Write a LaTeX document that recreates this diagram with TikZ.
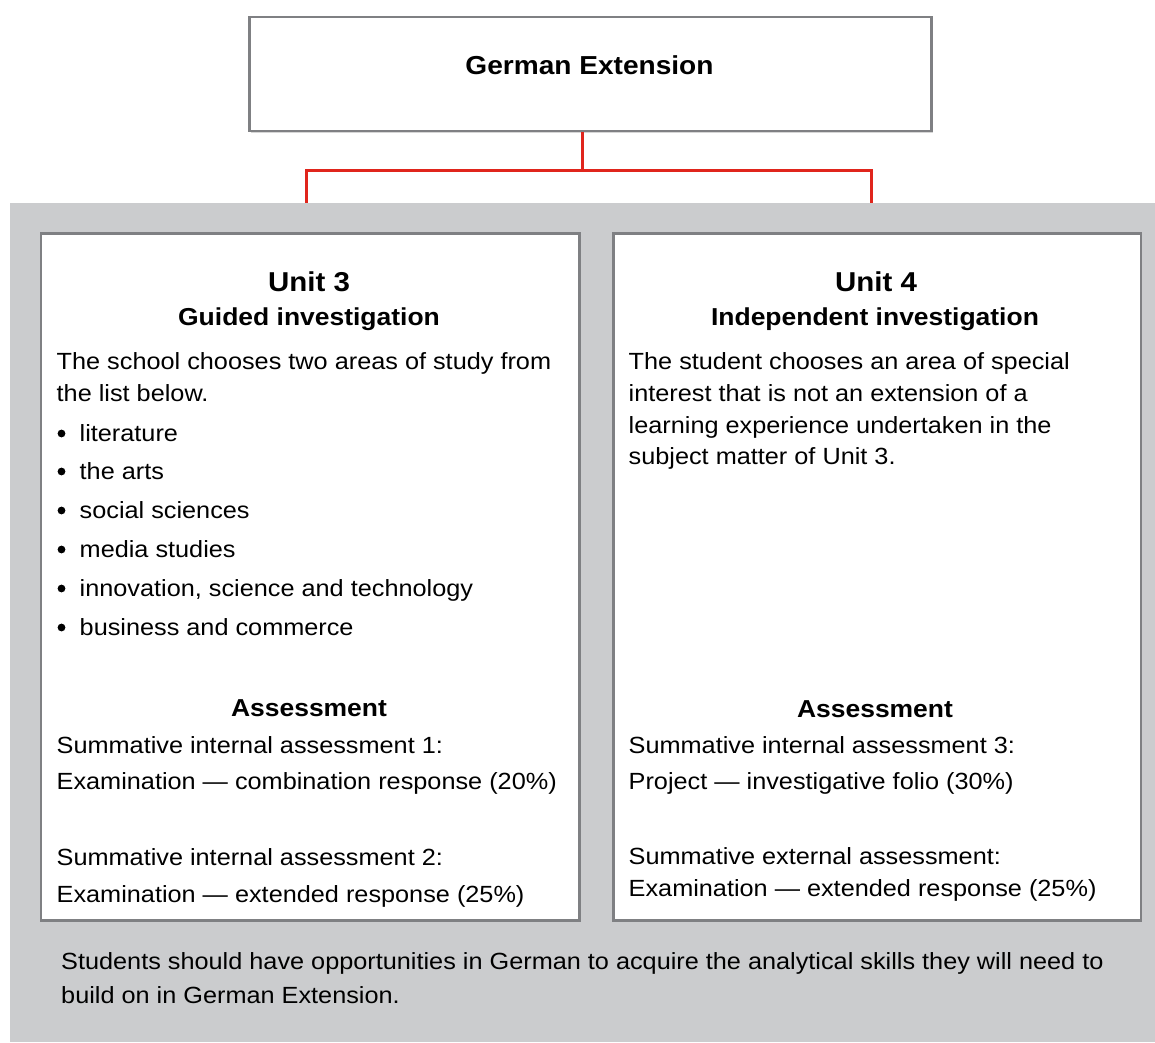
\documentclass[tikz,border=0pt]{standalone}
\usepackage{fontspec}
\setmainfont{Liberation Sans}[FakeStretch=1.08]
\definecolor{panelgray}{HTML}{CBCCCE}
\definecolor{boxborder}{HTML}{7F8083}
\definecolor{linkred}{HTML}{E0251C}
\begin{document}
\begin{tikzpicture}[x=1pt,y=-1pt,
  txt/.style={anchor=base west,inner sep=0pt,font=\fontsize{23.4}{28}\selectfont},
  ctxt/.style={anchor=base,inner sep=0pt,font=\fontsize{24.5}{29}\selectfont\bfseries},
  unittxt/.style={anchor=base,inner sep=0pt,font=\fontsize{27.3}{33}\selectfont\bfseries},
  foot/.style={anchor=base west,inner sep=0pt,font=\fontsize{23.4}{28}\selectfont},
  card/.style={draw=boxborder,line width=2.6pt,fill=white},
  shade/.style={fill=black,opacity=0.16},
  link/.style={draw=linkred,line width=3pt}]
\useasboundingbox (0,0) rectangle (1155,1042);
\fill[white] (0,0) rectangle (1155,1042);
% top box
\fill[shade] (250.5,18) rectangle (933,133);
\node[card,minimum width=682pt,minimum height=114pt,anchor=north west,inner sep=0pt] (top) at (248.3,15.5) {};
\node[anchor=base,inner sep=0pt,font=\fontsize{26}{30}\selectfont\bfseries] (toptxt) at (589.5,74) {German Extension};
% connectors
\coordinate (split) at (582.5,170);
\coordinate (lend) at (306,210);
\coordinate (rend) at (871.5,210);
\draw[link] (top.south -| split) -- (split);
\draw[link,line cap=rect] (lend) |- (split) -| (rend);
% panel
\fill[panelgray] (10,203) rectangle (1155,1042);
% unit boxes
\fill[shade] (42,235) rectangle (581,922);
\fill[shade] (614,235) rectangle (1142,922);
\node[card,minimum width=538.5pt,minimum height=687pt,anchor=north west,inner sep=0pt] (u3) at (39.5,232) {};
\node[card,minimum width=527.5pt,minimum height=687pt,anchor=north west,inner sep=0pt] (u4) at (612,232) {};
% Unit 3 text
\node[unittxt] (u3t) at (309,291) {Unit 3};
\node[ctxt] (u3s) at (309,325) {Guided investigation};
\node[txt] (u3p1) at (56.5,369) {The school chooses two areas of study from};
\node[txt] (u3p2) at (56.5,401) {the list below.};
\foreach \y/\t [count=\i] in {441/literature,479/the arts,518/social sciences,557/media studies,596/{innovation, science and technology},635/business and commerce}{
  \fill (61.5,\y-7.5) circle (3.9pt);
  \node[txt] (b\i) at (79.5,\y) {\t};
}
\node[ctxt] (u3a) at (309,716) {Assessment};
\node[txt] (u3a1) at (56.5,753) {Summative internal assessment 1:};
\node[txt] (u3a2) at (56.5,789) {Examination — combination response (20\%)};
\node[txt] (u3a3) at (56.5,865) {Summative internal assessment 2:};
\node[txt] (u3a4) at (56.5,902) {Examination — extended response (25\%)};
% Unit 4 text
\node[unittxt] (u4t) at (876,291) {Unit 4};
\node[ctxt] (u4s) at (875,325) {Independent investigation};
\node[txt] (u4p1) at (628.5,369) {The student chooses an area of special};
\node[txt] (u4p2) at (628.5,401) {interest that is not an extension of a};
\node[txt] (u4p3) at (628.5,433) {learning experience undertaken in the};
\node[txt] (u4p4) at (628.5,464) {subject matter of Unit 3.};
\node[ctxt] (u4a) at (875,717) {Assessment};
\node[txt] (u4a1) at (628.5,753) {Summative internal assessment 3:};
\node[txt] (u4a2) at (628.5,789) {Project — investigative folio (30\%)};
\node[txt] (u4a3) at (628.5,864) {Summative external assessment:};
\node[txt] (u4a4) at (628.5,896) {Examination — extended response (25\%)};
% footer
\node[foot] (f1) at (61,969) {Students should have opportunities in German to acquire the analytical skills they will need to};
\node[foot] (f2) at (61,1003) {build on in German Extension.};
\end{tikzpicture}
\end{document}
